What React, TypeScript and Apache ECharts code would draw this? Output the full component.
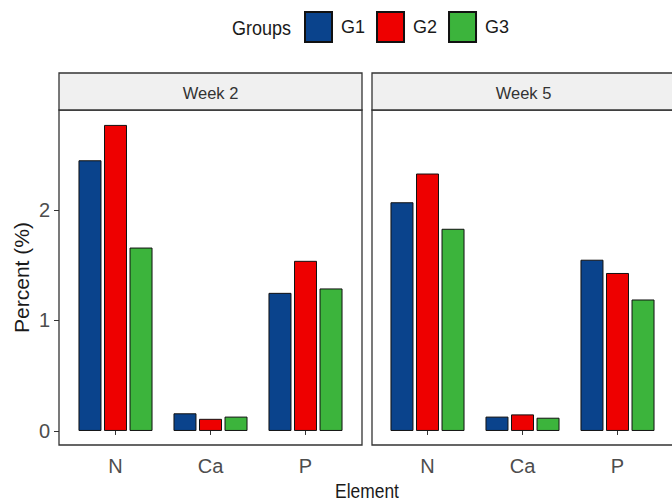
import React, { useEffect, useRef } from "react";
import * as echarts from "echarts";

const categories = ["N", "Ca", "P"];
const groups = ["G1", "G2", "G3"];
const panels = ["Week 2", "Week 5"];
const yTicks = [0, 1, 2];
const week2G1 = [2.45, 0.16, 1.25];
const week2G2 = [2.77, 0.11, 1.54];
const week2G3 = [1.66, 0.13, 1.29];
const week5G1 = [2.07, 0.13, 1.55];
const week5G2 = [2.33, 0.15, 1.43];
const week5G3 = [1.83, 0.12, 1.19];
const colors = ["#0a438c", "#ee0000", "#3cb43c"];

const REG = "'Liberation Sans', Arial, sans-serif";

export default function App() {
  const ref = useRef<HTMLDivElement>(null);
  useEffect(() => {
    if (!ref.current) return;
    const chart = echarts.init(ref.current, null, { renderer: "svg" });
    const panelData = [
      [week2G1, week2G2, week2G3],
      [week5G1, week5G2, week5G3],
    ];
    const gridLefts = [68, 380];
    const panelX = [59, 372];
    const panelW = [303, 304];
    const yMin = -0.127;
    const yMax = 2.905;

    const series: any[] = [];
    panelData.forEach((pd, pi) => {
      pd.forEach((vals, gi) => {
        series.push({
          type: "bar",
          name: groups[gi],
          xAxisIndex: pi,
          yAxisIndex: pi,
          data: vals,
          barWidth: 23,
          barGap: "11%",
          itemStyle: { color: colors[gi], borderColor: "#111", borderWidth: 1 },
        });
      });
    });

    const graphics: any[] = [];
    panels.forEach((p, pi) => {
      graphics.push({
        type: "rect",
        z: 10,
        shape: { x: panelX[pi], y: 110, width: panelW[pi], height: 335 },
        style: { fill: "none", stroke: "#333", lineWidth: 1.3 },
      });
      graphics.push({
        type: "rect",
        z: 10,
        shape: { x: panelX[pi], y: 73, width: panelW[pi], height: 37 },
        style: { fill: "#f0f0f0", stroke: "#333", lineWidth: 1.3 },
      });
      graphics.push({
        type: "text",
        z: 11,
        x: panelX[pi] + 151.5,
        y: 93,
        style: {
          text: p,
          fontSize: 16.5,
          fontFamily: REG,
          fill: "#333",
          align: "center",
          verticalAlign: "middle",
        },
      });
    });
    graphics.push({
      type: "text",
      x: 367,
      y: 491,
      scaleX: 0.87,
      style: {
        text: "Element",
        fontSize: 20,
        fontFamily: REG,
        fill: "#1a1a1a",
        align: "center",
        verticalAlign: "middle",
      },
    });
    graphics.push({
      type: "text",
      x: 232,
      y: 28,
      scaleX: 0.9,
      style: {
        text: "Groups",
        fontSize: 20,
        fontFamily: REG,
        fill: "#1a1a1a",
        align: "left",
        verticalAlign: "middle",
      },
    });

    chart.setOption({
      animation: false,
      legend: {
        data: groups,
        left: 304,
        top: 11,
        padding: 0,
        itemWidth: 27,
        itemHeight: 30,
        itemGap: 11,
        icon: "rect",
        textStyle: {
          fontSize: 18,
          fontFamily: REG,
          color: "#1a1a1a",
          padding: [3, 0, 0, 4],
        },
      },
      grid: gridLefts.map((l) => ({ left: l, top: 110, width: 285, height: 335 })),
      xAxis: gridLefts.map((_, i) => ({
        type: "category",
        gridIndex: i,
        data: categories,
        axisLine: { show: false },
        axisTick: { show: true, alignWithLabel: true, length: 4, lineStyle: { color: "#333" } },
        axisLabel: { color: "#4d4d4d", fontSize: 20, fontFamily: REG, margin: 11 },
      })),
      yAxis: gridLefts.map((_, i) =>
        i === 0
          ? {
              type: "value",
              gridIndex: 0,
              min: yMin,
              max: yMax,
              offset: 9,
              axisLine: { show: false },
              splitLine: { show: false },
              axisTick: { show: true, length: 5, customValues: yTicks, lineStyle: { color: "#333" } },
              axisLabel: {
                customValues: yTicks,
                margin: 9,
                fontSize: 20,
                fontFamily: REG,
                color: "#4d4d4d",
              },
              name: "Percent (%)",
              nameLocation: "middle",
              nameGap: 27,
              nameTextStyle: { fontSize: 21, fontFamily: REG, color: "#1a1a1a" },
            }
          : {
              type: "value",
              gridIndex: 1,
              min: yMin,
              max: yMax,
              show: false,
              splitLine: { show: false },
            }
      ),
      series,
      graphic: graphics,
    });
    return () => chart.dispose();
  }, []);
  return (
    <div
      ref={ref}
      style={{ position: "absolute", left: 0, top: 0, width: 672, height: 502, background: "#fff" }}
    />
  );
}
